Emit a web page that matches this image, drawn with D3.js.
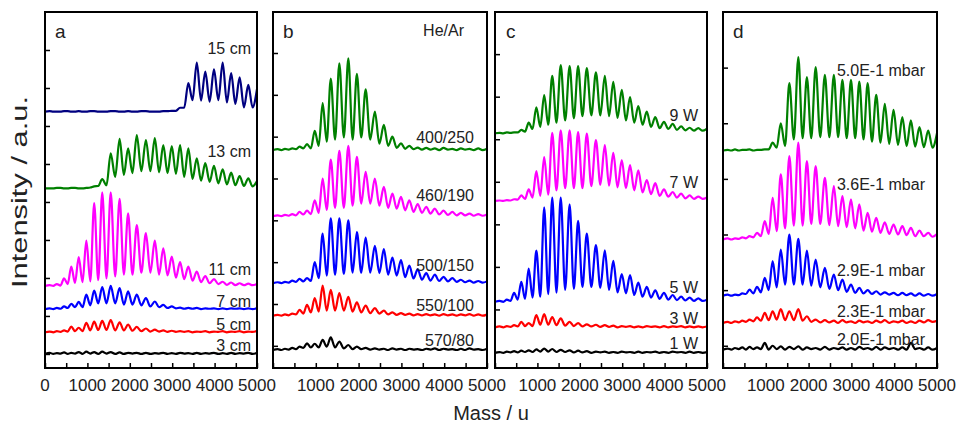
<!DOCTYPE html>
<html><head><meta charset="utf-8">
<script src="https://cdn.jsdelivr.net/npm/d3@7"></script>
<style>
body{margin:0;background:#fff}
svg{display:block}
text{font-family:"Liberation Sans",Arial,Helvetica,sans-serif;fill:#222}
</style>
</head><body>
<svg id="chart" width="957" height="424"></svg>
<script>
// ---------------- DATA ----------------
// shared comb of peak / valley masses (u)
const peakMass   = [110,280,450,620,795,975,1160,1350,1550,1760,1960,2165,2380,2590,2790,2990,3185,3380,3580,3780,3985,4190,4390,4590,4795,5000];
const valleyMass = [0,195,365,535,708,885,1068,1255,1450,1655,1860,2062,2272,2485,2690,2890,3088,3283,3480,3680,3883,4088,4290,4490,4692,4895];
const massTicks  = [0,500,1000,1500,2000,2500,3000,3500,4000,4500,5000];
const massTickLabelsA = [0,1000,2000,3000,4000,5000];
const massTickLabelsB = [1000,2000,3000,4000,5000];

// Panel a : nozzle distance
const aLabels  = ["3 cm","5 cm","7 cm","11 cm","13 cm","15 cm"];
const aOffsets = [0,0.57,1.18,1.79,4.36,6.38];
const aPeaks = [
 [0.03,0.02,0.04,0.03,0.05,0.06,0.05,0.06,0.05,0.04,0.03,0.03,0.03,0.02,0.03,0.02,0.03,0.02,0.03,0.02,0.03,0.02,0.03,0.02,0.03,0.02],
 [0.02,0.03,0.05,0.15,0.12,0.25,0.28,0.30,0.32,0.26,0.20,0.14,0.10,0.07,0.05,0.04,0.03,0.03,0.02,0.03,0.02,0.03,0.02,0.03,0.02,0.03],
 [0.02,0.03,0.07,0.14,0.19,0.38,0.49,0.58,0.61,0.55,0.47,0.38,0.29,0.20,0.11,0.07,0.04,0.03,0.03,0.02,0.02,0.02,0.02,0.02,0.02,0.02],
 [0.02,0.05,0.20,0.51,0.76,1.19,2.18,2.46,2.46,2.29,1.91,1.60,1.39,1.19,0.99,0.77,0.63,0.51,0.38,0.26,0.18,0.11,0.09,0.07,0.06,0.05],
 [0.00,0.01,0.00,0.01,0.00,0.01,0.05,0.24,0.92,1.30,1.05,1.40,1.27,1.32,1.14,1.11,1.14,1.05,0.79,0.66,0.59,0.50,0.41,0.32,0.26,0.19],
 [0.01,0.00,0.01,0.00,0.01,0.00,0.01,0.00,0.01,0.00,0.01,0.00,0.01,0.00,0.01,0.02,0.10,0.75,1.29,1.05,1.11,1.29,1.01,0.90,0.70,0.59]
];
const aValleys = [
 [0,0,0.01,0,0.01,0,0.01,0,0.01,0,0,0.01,0,0,0.01,0,0,0.01,0,0,0.01,0,0,0,0.01,0],
 [0,0,0.01,0.02,0.03,0.03,0.05,0.06,0.06,0.05,0.05,0.04,0.03,0.02,0.02,0.01,0.01,0.01,0,0.01,0,0.01,0,0.01,0,0.01],
 [0,0,0.01,0.03,0.05,0.05,0.10,0.15,0.15,0.15,0.12,0.12,0.10,0.07,0.05,0.03,0.02,0.01,0.01,0,0.01,0,0,0.01,0,0],
 [0,0,0.01,0.05,0.08,0.10,0.12,0.15,0.20,0.25,0.30,0.30,0.35,0.35,0.30,0.28,0.22,0.18,0.14,0.10,0.07,0.05,0.03,0.02,0.02,0.02],
 [0,0,0.01,0,0.01,0,0.02,0.06,0.08,0.30,0.35,0.40,0.45,0.45,0.42,0.40,0.38,0.30,0.25,0.20,0.17,0.13,0.10,0.08,0.06,0.05],
 [0,0,0,0.01,0,0,0.01,0,0,0.01,0,0,0.01,0,0,0.01,0.02,0.10,0.30,0.29,0.26,0.30,0.24,0.20,0.11,0.11]
];

// Panel b : He/Ar ratio
const bLabels  = ["570/80","550/100","500/150","460/190","400/250"];
const bOffsets = [-0.1,0.72,1.5,3.1,4.68];
const bPeaks = [
 [0.02,0.03,0.05,0.08,0.16,0.15,0.24,0.30,0.20,0.12,0.08,0.05,0.04,0.03,0.04,0.03,0.03,0.02,0.03,0.04,0.03,0.02,0.03,0.04,0.02,0.03],
 [0.02,0.03,0.05,0.14,0.26,0.42,0.72,0.62,0.54,0.45,0.32,0.24,0.18,0.12,0.08,0.06,0.05,0.04,0.04,0.03,0.04,0.03,0.03,0.04,0.03,0.03],
 [0.02,0.03,0.06,0.10,0.12,0.50,1.18,1.55,1.55,1.50,1.22,1.09,0.89,0.81,0.61,0.55,0.42,0.33,0.24,0.20,0.15,0.12,0.08,0.06,0.05,0.04],
 [0.02,0.03,0.05,0.10,0.13,0.38,0.90,1.35,1.56,1.68,1.42,1.06,0.90,0.70,0.54,0.46,0.38,0.29,0.22,0.18,0.13,0.10,0.08,0.06,0.05,0.04],
 [0.02,0.03,0.04,0.08,0.14,0.46,1.12,1.71,2.07,2.19,1.82,1.45,0.92,0.60,0.32,0.16,0.10,0.06,0.05,0.04,0.05,0.03,0.04,0.03,0.04,0.03]
];
const bValleys = [
 [0,0,0.01,0.02,0.05,0.06,0.06,0.08,0.06,0.04,0.02,0.02,0.01,0.01,0,0.01,0,0.01,0,0.01,0,0.01,0,0,0.01,0],
 [0,0,0.01,0.03,0.05,0.08,0.10,0.12,0.12,0.12,0.10,0.08,0.06,0.05,0.03,0.02,0.02,0.01,0.01,0.01,0,0.01,0,0.01,0,0],
 [0,0,0.01,0.03,0.04,0.05,0.12,0.18,0.20,0.22,0.25,0.25,0.25,0.24,0.20,0.18,0.14,0.11,0.08,0.06,0.05,0.04,0.03,0.02,0.01,0.01],
 [0,0,0.01,0.02,0.04,0.05,0.08,0.15,0.20,0.20,0.25,0.30,0.30,0.25,0.20,0.18,0.14,0.10,0.08,0.06,0.04,0.03,0.02,0.02,0.01,0.01],
 [0,0,0.01,0.02,0.04,0.04,0.10,0.20,0.25,0.30,0.25,0.30,0.25,0.15,0.10,0.05,0.03,0.02,0.01,0.01,0,0.01,0,0.01,0,0]
];

// Panel c : power
const cLabels  = ["1 W","3 W","5 W","7 W","9 W"];
const cOffsets = [-0.02,0.58,1.18,3.55,5.14];
const cPeaks = [
 [0.02,0.03,0.04,0.05,0.06,0.08,0.10,0.09,0.07,0.06,0.05,0.04,0.03,0.03,0.02,0.03,0.02,0.03,0.02,0.03,0.02,0.03,0.02,0.03,0.02,0.02],
 [0.02,0.03,0.05,0.13,0.10,0.29,0.31,0.24,0.21,0.13,0.10,0.07,0.06,0.05,0.04,0.03,0.03,0.02,0.03,0.02,0.03,0.02,0.03,0.02,0.02,0.02],
 [0.02,0.05,0.21,0.47,0.78,1.20,2.22,2.45,2.45,2.29,1.90,1.60,1.33,1.21,0.96,0.65,0.63,0.45,0.35,0.27,0.21,0.16,0.12,0.10,0.08,0.05],
 [0.01,0.02,0.04,0.13,0.27,0.70,1.03,1.60,1.66,1.66,1.62,1.58,1.43,1.31,1.13,0.96,0.84,0.72,0.49,0.42,0.27,0.21,0.17,0.13,0.10,0.08],
 [0.01,0.02,0.02,0.08,0.25,0.61,0.90,1.35,1.60,1.58,1.58,1.53,1.43,1.35,1.21,1.02,0.85,0.64,0.51,0.38,0.27,0.22,0.16,0.13,0.12,0.11]
];
const cValleys = [
 [0,0,0.01,0.01,0.02,0.02,0.03,0.03,0.02,0.02,0.01,0.01,0,0.01,0,0,0.01,0,0,0.01,0,0,0.01,0,0,0],
 [0,0,0.01,0.02,0.03,0.03,0.06,0.06,0.05,0.04,0.03,0.02,0.02,0.01,0.01,0,0.01,0,0,0.01,0,0,0.01,0,0,0],
 [0,0,0.02,0.05,0.07,0.10,0.12,0.18,0.22,0.28,0.30,0.35,0.35,0.33,0.28,0.22,0.20,0.16,0.12,0.10,0.07,0.05,0.04,0.03,0.02,0.02],
 [0,0,0.01,0.03,0.05,0.08,0.12,0.15,0.25,0.30,0.30,0.30,0.35,0.38,0.36,0.32,0.30,0.25,0.20,0.16,0.12,0.10,0.08,0.06,0.05,0.05],
 [0,0,0.01,0.02,0.04,0.10,0.15,0.20,0.25,0.30,0.35,0.40,0.42,0.42,0.40,0.36,0.30,0.25,0.20,0.15,0.12,0.10,0.08,0.07,0.06,0.06]
];

// Panel d : pressure
const dLabels  = ["2.0E-1 mbar","2.3E-1 mbar","2.9E-1 mbar","3.6E-1 mbar","5.0E-1 mbar"];
const dOffsets = [-0.07,0.41,0.9,1.91,3.51];
const dPeaks = [
 [0.02,0.03,0.04,0.05,0.04,0.12,0.07,0.06,0.05,0.06,0.04,0.03,0.05,0.03,0.04,0.03,0.05,0.03,0.05,0.04,0.03,0.04,0.12,0.03,0.04,0.03],
 [0.02,0.03,0.04,0.06,0.10,0.18,0.21,0.25,0.21,0.25,0.12,0.06,0.05,0.04,0.05,0.03,0.04,0.03,0.04,0.05,0.03,0.04,0.03,0.04,0.05,0.04],
 [0.02,0.02,0.04,0.11,0.16,0.32,0.62,0.83,1.10,1.02,0.81,0.65,0.50,0.38,0.29,0.20,0.14,0.10,0.08,0.06,0.05,0.05,0.04,0.04,0.03,0.03],
 [0.02,0.02,0.04,0.06,0.12,0.33,0.75,1.17,1.50,1.74,1.41,1.32,1.11,0.96,0.78,0.72,0.63,0.48,0.39,0.31,0.27,0.24,0.21,0.16,0.12,0.10],
 [0.01,0.02,0.01,0.02,0.01,0.02,0.14,0.49,1.21,1.68,1.32,1.50,1.36,1.36,1.27,1.27,1.24,1.21,1.00,0.84,0.73,0.60,0.54,0.42,0.36,0.31]
];
const dValleys = [
 [0,0,0.01,0,0.01,0.01,0,0.01,0,0.01,0,0.01,0,0,0.01,0,0,0.01,0,0,0.01,0,0,0.01,0,0],
 [0,0,0.01,0.02,0.03,0.04,0.05,0.06,0.05,0.05,0.04,0.02,0.01,0.01,0,0.01,0,0.01,0,0.01,0,0.01,0,0,0.01,0.02],
 [0,0,0.01,0.03,0.04,0.06,0.10,0.15,0.20,0.20,0.20,0.18,0.15,0.12,0.10,0.07,0.05,0.04,0.03,0.02,0.02,0.01,0.01,0,0,0],
 [0,0,0.01,0.02,0.04,0.06,0.10,0.15,0.20,0.25,0.25,0.28,0.28,0.26,0.24,0.22,0.20,0.16,0.14,0.12,0.10,0.09,0.08,0.06,0.06,0.05],
 [0,0,0,0.01,0,0.01,0.02,0.05,0.08,0.20,0.22,0.22,0.24,0.24,0.24,0.22,0.22,0.20,0.16,0.14,0.12,0.10,0.08,0.07,0.06,0.05]
];

const panelLetters = ["a","b","c","d"];
const intensityTicksA = [0,1,2,3,4,5,6,7,8];
const intensityTicksB = [0,1,2,3,4,5,6,7];
const intensityTicksD = [0,1,2,3,4,5];

// ---------------- LAYOUT / STYLE ----------------
const colorsA = ["#000000","#ff0000","#0000ff","#ff00ff","#008000","#000080"];
const colorsB = ["#000000","#ff0000","#0000ff","#ff00ff","#008000"];
const panels = [
  {letter:panelLetters[0], x0:45,  x1:257, yDom:[-0.37,9.0],  yTicks:intensityTicksA, labels:aLabels, offsets:aOffsets, peaks:aPeaks, valleys:aValleys, colors:colorsA,
   labelY:[345.7,324,301,269.3,151.7,48.3], labelRight:251, tickLabels:massTickLabelsA, letterX:55},
  {letter:panelLetters[1], x0:273, x1:487, yDom:[-0.53,7.98], yTicks:intensityTicksB, labels:bLabels, offsets:bOffsets, peaks:bPeaks, valleys:bValleys, colors:colorsB,
   labelY:[340,305,265,195,137.7], labelRight:474, tickLabels:massTickLabelsB, letterX:283, note:"He/Ar"},
  {letter:panelLetters[2], x0:495, x1:707, yDom:[-0.376,7.99], yTicks:intensityTicksB, labels:cLabels, offsets:cOffsets, peaks:cPeaks, valleys:cValleys, colors:colorsB,
   labelY:[343.3,318.3,287.3,182.7,115], labelRight:698, tickLabels:massTickLabelsB, letterX:506},
  {letter:panelLetters[3], x0:723, x1:937, yDom:[-0.40,6.0],  yTicks:intensityTicksD, labels:dLabels, offsets:dOffsets, peaks:dPeaks, valleys:dValleys, colors:colorsB,
   labelY:[339,311.7,270.7,184.3,70], labelRight:925, tickLabels:massTickLabelsB, letterX:733}
];
const plotTop = 12, plotBottom = 368;

const svg = d3.select("#chart");
const defs = svg.append("defs");

panels.forEach((p, pi) => {
  const x = d3.scaleLinear().domain([0,5000]).range([p.x0, p.x1]);
  const y = d3.scaleLinear().domain(p.yDom).range([plotBottom, plotTop]);
  const g = svg.append("g");

  defs.append("clipPath").attr("id","clip"+pi)
    .append("rect").attr("x",p.x0).attr("y",plotTop).attr("width",p.x1-p.x0).attr("height",plotBottom-plotTop);

  const line = d3.line().x(d=>x(d[0])).y(d=>y(d[1])).curve(d3.curveMonotoneX);
  const gl = g.append("g").attr("clip-path","url(#clip"+pi+")");
  p.peaks.forEach((pk, si) => {
    const pts = [];
    valleyMass.forEach((vm, i) => {
      pts.push([vm, p.offsets[si] + p.valleys[si][i]]);
      pts.push([peakMass[i], p.offsets[si] + pk[i]]);
    });
    gl.append("path").attr("d", line(pts)).attr("fill","none")
      .attr("stroke", p.colors[si]).attr("stroke-width",2.2).attr("stroke-linejoin","round");
  });

  // bottom axis (ticks inward)
  const xAxis = d3.axisBottom(x).tickValues(massTicks).tickSize(-5).tickFormat("");
  g.append("g").attr("transform",`translate(0,${plotBottom})`).call(xAxis)
    .call(s=>s.select(".domain").remove())
    .call(s=>s.selectAll("line").attr("stroke","#000").attr("stroke-width",1.5));
  g.append("g").selectAll("text").data(p.tickLabels).join("text")
    .attr("x",d=>x(d)).attr("y",390.5).attr("text-anchor","middle")
    .attr("font-size",17).text(d=>d);

  // left axis (ticks inward)
  const yAxis = d3.axisLeft(y).tickValues(p.yTicks).tickSize(-5).tickFormat("");
  g.append("g").attr("transform",`translate(${p.x0},0)`).call(yAxis)
    .call(s=>s.select(".domain").remove())
    .call(s=>s.selectAll("line").attr("stroke","#000").attr("stroke-width",1.5));

  // frame
  g.append("rect").attr("x",p.x0).attr("y",plotTop).attr("width",p.x1-p.x0).attr("height",plotBottom-plotTop)
    .attr("fill","none").attr("stroke","#000").attr("stroke-width",2);

  // series labels
  g.append("g").selectAll("text").data(p.labels).join("text")
    .attr("x",p.labelRight).attr("y",(d,i)=>p.labelY[i]+5.5)
    .attr("text-anchor","end").attr("font-size",16).text(d=>d);

  g.append("text").attr("x",p.letterX).attr("y",38).attr("font-size",19).text(p.letter);
  if (p.note) g.append("text").attr("x",464).attr("y",35.5).attr("text-anchor","end").attr("font-size",16).text(p.note);
});

svg.append("text").attr("x",491).attr("y",420).attr("text-anchor","middle").attr("font-size",20).text("Mass / u");
svg.append("text").attr("transform","translate(27,192) rotate(-90)").attr("text-anchor","middle")
  .attr("font-size",22).attr("textLength",192).attr("lengthAdjust","spacingAndGlyphs").text("Intensity / a.u.");
</script>
</body></html>
